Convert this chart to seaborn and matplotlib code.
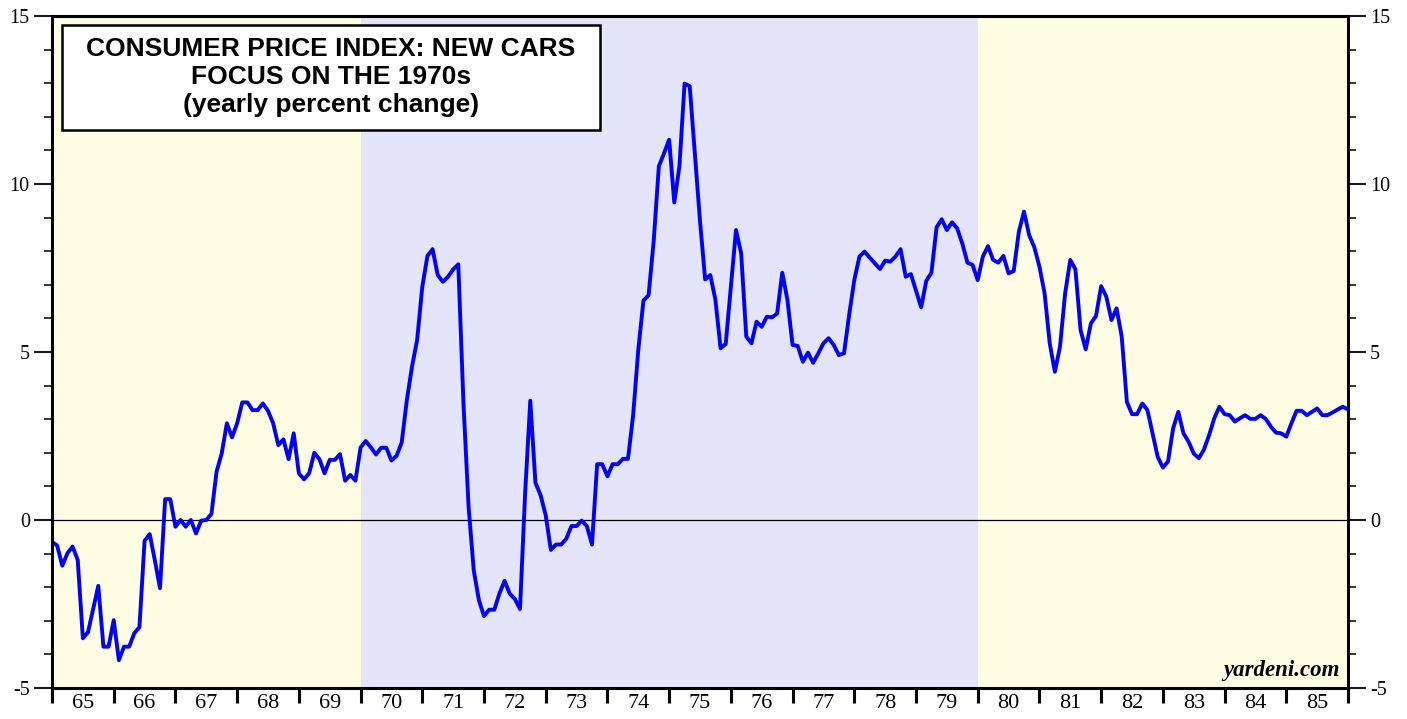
import numpy as np
import pandas as pd
import seaborn as sns
import matplotlib.pyplot as plt
from matplotlib.patches import Rectangle
from matplotlib.ticker import MultipleLocator, FixedLocator, NullFormatter

# monthly yearly % change, Jan 1965 .. Jan 1986
cpi_new_cars = [
    -0.65, -0.76, -1.36, -0.99, -0.79, -1.19, -3.52, -3.34, -2.65, -1.96, -3.77, -3.77,
    -2.98, -4.17, -3.77, -3.77, -3.37, -3.19, -0.62, -0.42, -1.20, -2.03, 0.62, 0.62,
    -0.20, 0.00, -0.20, 0.00, -0.40, -0.02, 0.00, 0.18, 1.44, 1.98, 2.88, 2.46,
    2.88, 3.50, 3.50, 3.27, 3.27, 3.47, 3.25, 2.88, 2.23, 2.40, 1.81, 2.58,
    1.39, 1.21, 1.39, 2.00, 1.81, 1.39, 1.79, 1.79, 1.96, 1.17, 1.34, 1.17,
    2.16, 2.35, 2.16, 1.95, 2.15, 2.15, 1.77, 1.91, 2.31, 3.57, 4.56, 5.36,
    6.94, 7.86, 8.06, 7.29, 7.09, 7.24, 7.46, 7.61, 3.50, 0.40, -1.49, -2.38,
    -2.86, -2.67, -2.67, -2.19, -1.81, -2.19, -2.35, -2.65, 0.80, 3.55, 1.11, 0.74,
    0.14, -0.89, -0.73, -0.73, -0.56, -0.18, -0.18, -0.02, -0.18, -0.73, 1.66, 1.66,
    1.30, 1.66, 1.66, 1.82, 1.82, 3.12, 5.06, 6.53, 6.69, 8.31, 10.53, 10.91,
    11.32, 9.45, 10.53, 12.99, 12.91, 10.91, 8.90, 7.16, 7.29, 6.55, 5.11, 5.24,
    6.94, 8.63, 7.94, 5.46, 5.26, 5.90, 5.75, 6.05, 6.03, 6.15, 7.36, 6.55,
    5.21, 5.18, 4.71, 4.98, 4.68, 4.96, 5.26, 5.41, 5.21, 4.91, 4.96, 6.10,
    7.14, 7.84, 7.99, 7.81, 7.64, 7.47, 7.72, 7.69, 7.84, 8.06, 7.24, 7.32,
    6.82, 6.33, 7.12, 7.36, 8.71, 8.95, 8.63, 8.86, 8.68, 8.23, 7.66, 7.59,
    7.14, 7.84, 8.15, 7.74, 7.66, 7.86, 7.34, 7.41, 8.58, 9.18, 8.48, 8.12,
    7.54, 6.75, 5.26, 4.41, 5.16, 6.75, 7.74, 7.46, 5.65, 5.08, 5.85, 6.07,
    6.96, 6.65, 5.95, 6.30, 5.46, 3.52, 3.15, 3.15, 3.47, 3.27, 2.58, 1.88,
    1.56, 1.74, 2.73, 3.22, 2.58, 2.33, 1.98, 1.84, 2.10, 2.53, 3.03, 3.37,
    3.15, 3.12, 2.93, 3.03, 3.12, 3.01, 3.01, 3.12, 3.01, 2.78, 2.60, 2.58,
    2.48, 2.88, 3.25, 3.25, 3.12, 3.22, 3.32, 3.12, 3.12, 3.20, 3.29, 3.37,
    3.29,
]
start_year = 1965
years = list(range(1965, 1986))
year_labels = [str(y)[2:] for y in years]
shade_periods = [(1965, 1970, "#FFFEE4"), (1970, 1980, "#E4E4FB"), (1980, 1986, "#FFFEE4")]
title_lines = "CONSUMER PRICE INDEX: NEW CARS\nFOCUS ON THE 1970s\n(yearly percent change)"

df = pd.DataFrame({"value": cpi_new_cars})
df["date"] = start_year + np.arange(len(df)) / 12.0

sns.set_style("white")
plt.rcParams["font.family"] = ["Liberation Serif", "DejaVu Serif"]
plt.rcParams["text.color"] = "black"
plt.rcParams["xtick.color"] = "black"
plt.rcParams["ytick.color"] = "black"

W, H = 1407, 719
fig = plt.figure(figsize=(W / 100, H / 100), dpi=100)
ax = fig.add_axes([52 / W, 1 - 688 / H, 1296 / W, 672 / H])

for a, b, c in shade_periods:
    ax.axvspan(a, b, color=c, lw=0, zorder=0)
ax.axhline(0, color="black", lw=0.9, zorder=1)

sns.lineplot(data=df, x="date", y="value", color="#0000FF", lw=2.8, ax=ax, zorder=3)

ax.set_xlim(1965, 1986)
ax.set_ylim(-5, 15)
ax.set_xlabel("")
ax.set_ylabel("")

# y axis on both sides
ax.yaxis.set_major_locator(MultipleLocator(5))
ax.yaxis.set_minor_locator(MultipleLocator(1))
ax.tick_params(axis="y", which="both", left=True, right=True, labelleft=True, labelright=True,
               direction="out", labelsize=14.5, pad=3)
ax.tick_params(axis="y", which="major", length=13, width=1.3)
ax.tick_params(axis="y", which="minor", length=6, width=1.1)
ax.set_yticks([-5, 0, 5, 10, 15])
ax.set_yticklabels(["-5", "0", "5", "10", "15"])

# x axis: ticks at year boundaries, labels mid-year
ax.xaxis.set_major_locator(FixedLocator(years + [1986]))
ax.xaxis.set_major_formatter(NullFormatter())
ax.xaxis.set_minor_locator(FixedLocator([y + 0.5 for y in years]))
ax.set_xticklabels(year_labels, minor=True)
ax.tick_params(axis="x", which="major", direction="out", length=11, width=2.2, bottom=True)
ax.tick_params(axis="x", which="minor", length=0, labelsize=16, pad=4, bottom=True)

for s in ax.spines.values():
    s.set_linewidth(2.2)
    s.set_color("black")
    s.set_zorder(5)

# title box
box = Rectangle((62 / W, 1 - 130 / H), 538 / W, 105 / H, transform=fig.transFigure,
                fc="white", ec="black", lw=1.8, zorder=6)
fig.add_artist(box)
fig.text(331 / W, 1 - 77 / H, title_lines, ha="center", va="center",
         fontsize=19, fontweight="bold", family=["Liberation Sans", "DejaVu Sans"],
         linespacing=1.2, zorder=7)

ax.text(0.9935, 0.01, "yardeni.com", transform=ax.transAxes, ha="right", va="bottom",
        fontsize=16.5, fontweight="bold", fontstyle="italic", zorder=6)

fig.savefig("out.png", dpi=100)
